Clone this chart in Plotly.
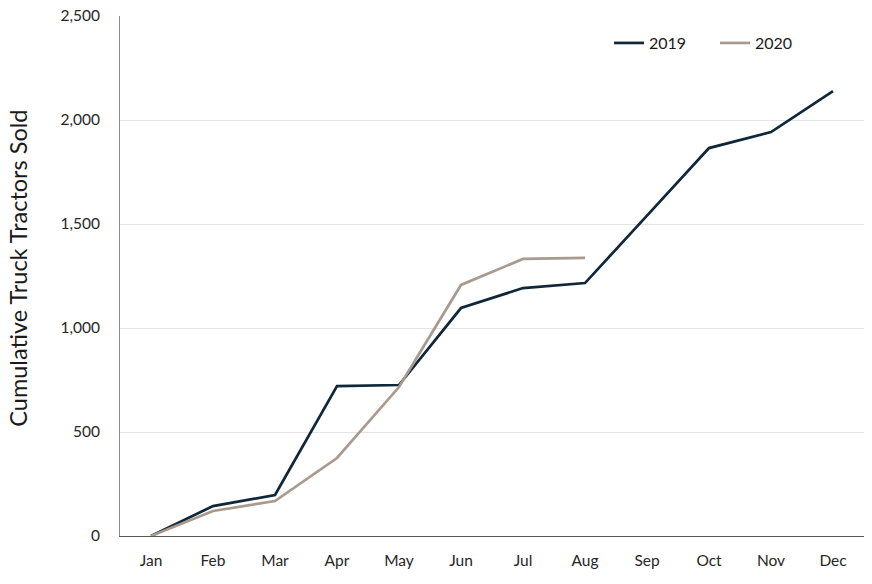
import plotly.graph_objects as go

months = ["Jan", "Feb", "Mar", "Apr", "May", "Jun", "Jul", "Aug", "Sep", "Oct", "Nov", "Dec"]
sales_2019 = [0, 144, 197, 721, 726, 1096, 1192, 1216, 1540, 1865, 1942, 2139]
months_2020 = ["Jan", "Feb", "Mar", "Apr", "May", "Jun", "Jul", "Aug"]
sales_2020 = [0, 120, 168, 375, 716, 1207, 1332, 1337]
y_ticks = [0, 500, 1000, 1500, 2000, 2500]
y_title = "Cumulative Truck Tractors Sold"

fig = go.Figure()
fig.add_trace(go.Scatter(x=months, y=sales_2019, mode="lines", name="2019",
                         line=dict(color="#0f2738", width=2.7), legend="legend"))
fig.add_trace(go.Scatter(x=months_2020, y=sales_2020, mode="lines", name="2020",
                         line=dict(color="#a89a8d", width=2.7), legend="legend2"))

font_family = "Lato, 'Open Sans', sans-serif"
leg_common = dict(orientation="h", xanchor="left", yanchor="middle", y=0.948,
                  font=dict(size=16, color="#1a1a1a"), bgcolor="rgba(0,0,0,0)",
                  itemwidth=30)
fig.update_layout(
    width=872, height=584,
    margin=dict(l=120, r=8, t=16, b=48, autoexpand=False),
    plot_bgcolor="white", paper_bgcolor="white",
    font=dict(family=font_family, color="#404040", size=15),
    showlegend=True,
    legend=dict(x=0.6573, **leg_common),
    legend2=dict(x=0.7997, **leg_common),
    xaxis=dict(categoryorder="array", categoryarray=months, range=[-0.5, 11.5],
               showline=True, linecolor="#595959", linewidth=1.3, ticks="",
               showgrid=False, tickfont=dict(size=15.5, color="#262626"), ticklabelstandoff=10),
    yaxis=dict(range=[0, 2500], tickvals=y_ticks, tickformat=",d", ticklabeloverflow="allow",
               showline=True, linecolor="#8c8c8c", linewidth=1,
               showgrid=True, gridcolor="#e3e3e3", gridwidth=1, zeroline=False,
               tickfont=dict(size=15.5, color="#262626"), ticklabelstandoff=16),
    annotations=[dict(text=y_title, textangle=-90, xref="paper", yref="paper",
                      x=-0.1371, y=0.516, xanchor="center", yanchor="middle",
                      showarrow=False, font=dict(size=23.5, color="#1a1a1a"))],
)
fig.write_html("out.html", config={"displayModeBar": False},
               post_script="document.body.style.margin='0';")
